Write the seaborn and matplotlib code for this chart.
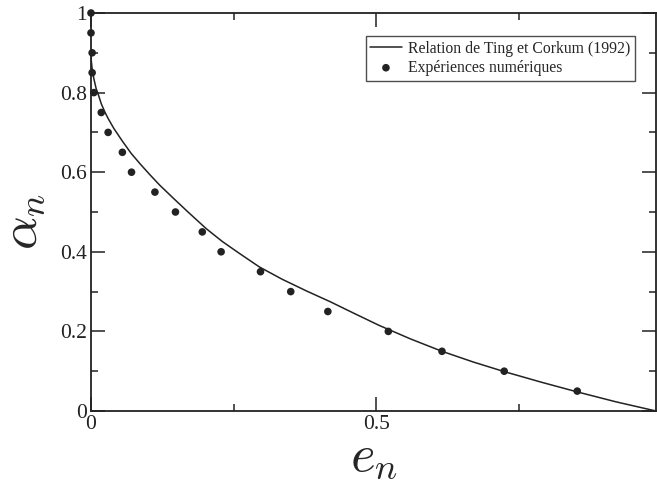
import matplotlib

matplotlib.use("Agg")
import seaborn as sns
import matplotlib.pyplot as plt
from matplotlib.ticker import MultipleLocator

# Numerical experiments (dots)
alpha_exp = [1.0, 0.95, 0.9, 0.85, 0.8, 0.75, 0.7, 0.65, 0.6, 0.55,
             0.5, 0.45, 0.4, 0.35, 0.3, 0.25, 0.2, 0.15, 0.1, 0.05]
e_exp = [0.0, 0.0, 0.002, 0.002, 0.005, 0.018, 0.030, 0.055, 0.071, 0.112,
         0.148, 0.195, 0.228, 0.297, 0.350, 0.415, 0.521, 0.615, 0.724, 0.852]

# Ting & Corkum (1992) relation
e_tc = [0.0, 0.0005, 0.002, 0.005, 0.009, 0.014, 0.018, 0.024, 0.030, 0.040,
        0.055, 0.070, 0.086, 0.103, 0.120, 0.144, 0.170, 0.202, 0.230, 0.260,
        0.295, 0.335, 0.377, 0.420, 0.460, 0.505, 0.560, 0.615, 0.670, 0.724,
        0.790, 0.852, 0.920, 0.990]
alpha_tc = [0.905, 0.880, 0.860, 0.835, 0.810, 0.790, 0.772, 0.752, 0.735, 0.710,
            0.678, 0.648, 0.621, 0.594, 0.568, 0.535, 0.500, 0.458, 0.426, 0.396,
            0.362, 0.331, 0.302, 0.274, 0.246, 0.215, 0.181, 0.150, 0.123, 0.099,
            0.072, 0.048, 0.023, 0.0]

sns.set_style("ticks")
plt.rcParams["font.family"] = ["Liberation Serif", "DejaVu Serif"]
plt.rcParams["mathtext.fontset"] = "cm"

fig = plt.figure(figsize=(6.57, 4.83), dpi=100)
ax = fig.add_axes([91 / 657, 1 - 411 / 483, 565 / 657, (411 - 13) / 483])

sns.lineplot(x=e_tc, y=alpha_tc, ax=ax, color="#222222", linewidth=1.1,
             label="Relation de Ting et Corkum (1992)", sort=False)
sns.scatterplot(x=e_exp, y=alpha_exp, ax=ax, color="#222222", s=30,
                edgecolor="none", label="Expériences numériques", zorder=3,
                clip_on=False)

ax.set_xlim(0, 0.99)
ax.set_ylim(0, 1)
ax.xaxis.set_minor_locator(MultipleLocator(0.25))
ax.yaxis.set_minor_locator(MultipleLocator(0.1))
ax.set_yticks([0, 0.2, 0.4, 0.6, 0.8, 1.0])
ax.set_yticklabels(["0", "0.2", "0.4", "0.6", "0.8", "1"])
ax.set_xticks([0, 0.5])
ax.set_xticklabels(["0", "0.5"])
ax.tick_params(which="both", direction="in", top=True, right=True,
               labelsize=15.5, colors="#222222", width=1.1)
ax.tick_params(which="major", length=10, pad=3)
ax.tick_params(which="minor", length=5)
for s in ax.spines.values():
    s.set_linewidth(1.3)
    s.set_color("#222222")

ax.set_xlabel("$e_n$", fontsize=38, labelpad=0)
ax.set_ylabel(r"$\alpha_n$", fontsize=38)
ax.yaxis.set_label_coords(-0.076, 0.475)

leg = ax.legend(loc="upper right", bbox_to_anchor=(635 / 657, 1 - 36 / 483),
                bbox_transform=fig.transFigure, fontsize=11.3, frameon=True,
                fancybox=False, handlelength=2.0, borderpad=0.3,
                labelspacing=0.2, handletextpad=0.4, borderaxespad=0)
leg.get_frame().set_edgecolor("#222222")
leg.get_frame().set_linewidth(1.0)

fig.savefig("out.png", dpi=100)
plt.close(fig)
